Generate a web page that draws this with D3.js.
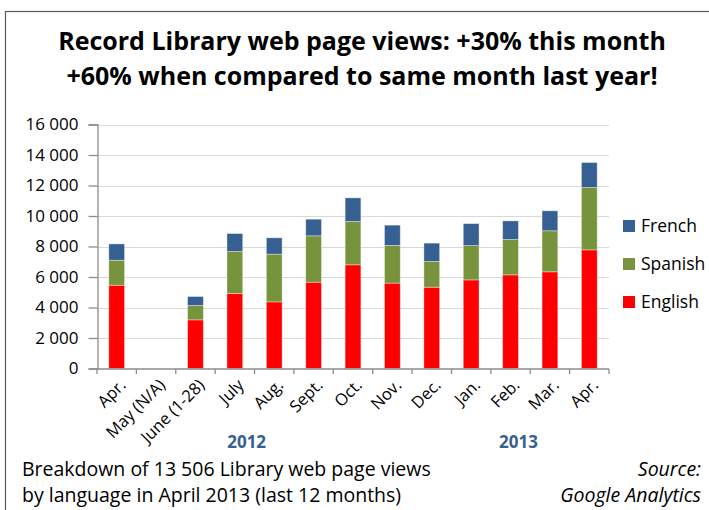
<!DOCTYPE html>
<html>
<head>
<meta charset="utf-8">
<script src="https://cdn.jsdelivr.net/npm/d3@7"></script>
<style>
  body { margin: 0; background: #fff; }
  text { font-family: "Open Sans", Lato, sans-serif; fill: #000; }
</style>
</head>
<body>
<div id="chart"></div>
<script>
// months shown on the x axis
const months = ['Apr.', 'May (N/A)', 'June (1-28)', 'July', 'Aug.', 'Sept.', 'Oct.',
                'Nov.', 'Dec.', 'Jan.', 'Feb.', 'Mar.', 'Apr.'];
// page views per language (May has no data)
const english = [5460, 0, 3190, 4920, 4370, 5660, 6800, 5600, 5330, 5810, 6140, 6340, 7780];
const spanish = [1640, 0, 940, 2750, 3130, 3040, 2840, 2470, 1690, 2250, 2320, 2690, 4090];
const french  = [1070, 0, 590, 1180, 1070, 1090, 1550, 1330, 1200, 1440, 1220, 1310, 1636];
const languages = ['English', 'Spanish', 'French'];
const yTicks = [0, 2000, 4000, 6000, 8000, 10000, 12000, 14000, 16000];
const titleLines = ['Record Library web page views: +30% this month',
                    '+60% when compared to same month last year!'];
const years = ['2012', '2013'];

const W = 709, H = 510;
const colors = {English: '#ff0000', Spanish: '#77933c', French: '#376092'};
// where the year labels sit, in category units along the x axis
const yearAt = [3.3, 10.2];

const svg = d3.select('#chart').append('svg')
    .attr('width', W)
    .attr('height', H);

// outer frame
svg.append('rect')
    .attr('x', 5.5).attr('y', 11.5)
    .attr('width', W + 10).attr('height', H + 10)
    .attr('fill', 'none')
    .attr('stroke', '#595959')
    .attr('stroke-width', 1.2);

// title
svg.append('g').selectAll('text')
    .data(titleLines)
    .join('text')
    .attr('x', 362)
    .attr('y', (d, i) => 50 + i * 35)
    .attr('text-anchor', 'middle')
    .style('font-size', '25px')
    .style('font-weight', 'bold')
    .text(d => d);

// scales
const x = d3.scaleBand()
    .domain(d3.range(months.length))
    .range([97, 609])
    .paddingInner(0.6)
    .paddingOuter(0.3);
const step = x.step();

const y = d3.scaleLinear()
    .domain([0, 16000])
    .range([368.5, 124.5]);

// gridlines
svg.append('g').selectAll('line')
    .data(yTicks.slice(1))
    .join('line')
    .attr('x1', 97).attr('x2', 609)
    .attr('y1', d => Math.round(y(d)) + 0.5)
    .attr('y2', d => Math.round(y(d)) + 0.5)
    .attr('stroke', '#d9d9d9')
    .attr('stroke-width', 1);

// stacked bars
const table = months.map((m, i) => ({i, English: english[i], Spanish: spanish[i], French: french[i]}));
const series = d3.stack().keys(languages)(table);

svg.append('g').selectAll('g')
    .data(series)
    .join('g')
    .attr('fill', d => colors[d.key])
    .selectAll('rect')
    .data(d => d.filter(p => p[1] > p[0]))
    .join('rect')
    .attr('x', d => x(d.data.i))
    .attr('width', x.bandwidth())
    .attr('y', d => y(d[1]))
    .attr('height', d => y(d[0]) - y(d[1]))
    .attr('stroke', '#ffffff')
    .attr('stroke-opacity', 0.45)
    .attr('stroke-width', 0.8);

// y axis
const yAxis = svg.append('g')
    .attr('transform', 'translate(97.5,0)')
    .call(d3.axisLeft(y)
        .tickValues(yTicks)
        .tickSize(9)
        .tickPadding(10)
        .tickFormat(d => d3.format(',')(d).replace(',', ' ')));
yAxis.select('.domain').attr('stroke', '#8c8c8c').attr('stroke-width', 1.3);
yAxis.selectAll('.tick line').attr('stroke', '#8c8c8c').attr('stroke-width', 1.3);
yAxis.selectAll('.tick text')
    .style('font-size', '17px')
    .style('font-family', '"Open Sans", sans-serif')
    .attr('fill', '#000');

// x axis line and category boundary ticks
const xg = svg.append('g');
xg.append('line')
    .attr('x1', 97).attr('x2', 609)
    .attr('y1', 369).attr('y2', 369)
    .attr('stroke', '#8c8c8c')
    .attr('stroke-width', 1.3);
xg.selectAll('.bnd')
    .data(d3.range(months.length + 1))
    .join('line')
    .attr('class', 'bnd')
    .attr('x1', i => 97 + i * step).attr('x2', i => 97 + i * step)
    .attr('y1', 369).attr('y2', 374)
    .attr('stroke', '#8c8c8c')
    .attr('stroke-width', 1.3);

// rotated month labels
xg.selectAll('.lbl')
    .data(months)
    .join('text')
    .attr('class', 'lbl')
    .attr('transform', (d, i) => `translate(${x(i) + x.bandwidth() / 2 + 6},382) rotate(-45)`)
    .attr('text-anchor', 'end')
    .attr('dy', '0.35em')
    .style('font-size', '16.5px')
    .text(d => d);

// year labels
svg.append('g').selectAll('text')
    .data(years)
    .join('text')
    .attr('x', (d, i) => 97 + (yearAt[i] + 0.5) * step)
    .attr('y', 448)
    .attr('text-anchor', 'middle')
    .style('font-size', '17px')
    .style('font-weight', 'bold')
    .style('fill', '#376092')
    .text(d => d);

// legend
const legend = svg.append('g').selectAll('g')
    .data(languages.slice().reverse())
    .join('g')
    .attr('transform', (d, i) => `translate(623,${220 + i * 38})`);
legend.append('rect')
    .attr('width', 12).attr('height', 12)
    .attr('fill', d => colors[d]);
legend.append('text')
    .attr('x', 18).attr('y', 6)
    .attr('dy', '0.35em')
    .style('font-size', '17.5px')
    .text(d => d);

// footer notes
svg.append('g').selectAll('text')
    .data(['Breakdown of 13 506 Library web page views',
           'by language in April 2013 (last 12 months)'])
    .join('text')
    .attr('x', 22)
    .attr('y', (d, i) => 476 + i * 26)
    .style('font-size', '19.5px')
    .text(d => d);

svg.append('g').selectAll('text')
    .data(['Source:', 'Google Analytics'])
    .join('text')
    .attr('x', 701)
    .attr('y', (d, i) => 476 + i * 26)
    .attr('text-anchor', 'end')
    .style('font-size', '19.5px')
    .style('font-style', 'italic')
    .text(d => d);
</script>
</body>
</html>
